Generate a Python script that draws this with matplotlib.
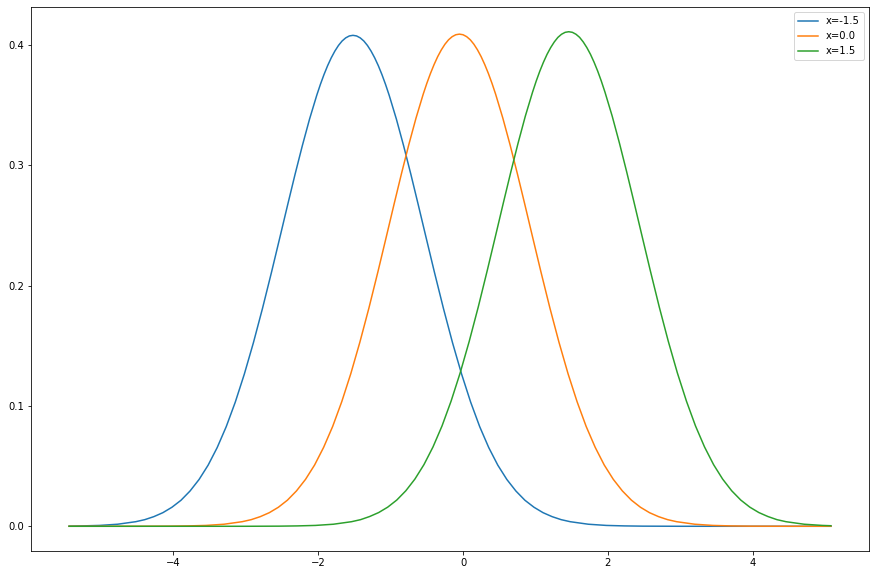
import matplotlib
matplotlib.use("Agg")
import matplotlib.pyplot as plt

labels = ["x=-1.5", "x=0.0", "x=1.5"]

x_blue = [-5.44, -5.27, -5.02, -4.77, -4.52, -4.395, -4.27, -4.145, -4.02, -3.895, -3.77,
          -3.645, -3.52, -3.395, -3.27, -3.145, -3.02, -2.895, -2.77, -2.645, -2.52,
          -2.42, -2.32, -2.22, -2.12, -2.02, -1.97, -1.92, -1.87, -1.82, -1.77, -1.72,
          -1.67, -1.62, -1.57, -1.52,
          -1.47, -1.42, -1.37, -1.32, -1.27, -1.22, -1.17, -1.12, -1.07, -1.02,
          -0.92, -0.82, -0.72, -0.62, -0.52, -0.395, -0.27, -0.145, -0.02, 0.105,
          0.23, 0.355, 0.48, 0.605, 0.73, 0.855, 0.98, 1.105, 1.23, 1.355, 1.48,
          1.73, 1.98, 2.23, 2.48, 3.0, 4.0, 5.08]
y_blue = [0.0001, 0.0003, 0.0007, 0.0017, 0.0038, 0.0055, 0.0080, 0.0113, 0.0158, 0.0216, 0.0293,
          0.0389, 0.0508, 0.0654, 0.0828, 0.1032, 0.1265, 0.1525, 0.1809, 0.2111, 0.2424,
          0.2676, 0.2924, 0.3161, 0.3383, 0.3582, 0.3672, 0.3754, 0.3828, 0.3893, 0.3949, 0.3996,
          0.4033, 0.4059, 0.4075, 0.4080,
          0.4075, 0.4059, 0.4033, 0.3996, 0.3949, 0.3893, 0.3828, 0.3754, 0.3672, 0.3582,
          0.3383, 0.3161, 0.2924, 0.2676, 0.2424, 0.2111, 0.1809, 0.1525, 0.1265, 0.1032,
          0.0828, 0.0654, 0.0508, 0.0389, 0.0293, 0.0216, 0.0158, 0.0113, 0.0080, 0.0055, 0.0038,
          0.0017, 0.0007, 0.0003, 0.0001, 0.0, 0.0, 0.0]

x_orange = [-5.44, -4.5, -4.05, -3.80, -3.55, -3.30, -3.05, -2.925, -2.80, -2.675, -2.55,
            -2.425, -2.30, -2.175, -2.05, -1.925, -1.80, -1.675, -1.55, -1.425, -1.30,
            -1.175, -1.05, -0.95, -0.85, -0.75, -0.65, -0.55, -0.50, -0.45, -0.40, -0.35,
            -0.30, -0.25, -0.20, -0.15, -0.10, -0.05,
            0.0, 0.05, 0.10, 0.15, 0.20, 0.25, 0.30, 0.35, 0.40, 0.45,
            0.55, 0.65, 0.75, 0.85, 0.95, 1.075, 1.20, 1.325, 1.45, 1.575, 1.70, 1.825,
            1.95, 2.075, 2.20, 2.325, 2.45, 2.575, 2.70, 2.825, 2.95,
            3.20, 3.45, 3.70, 3.95, 4.5, 5.08]
y_orange = [0.0, 0.0, 0.0001, 0.0003, 0.0007, 0.0017, 0.0038, 0.0055, 0.0080, 0.0113, 0.0158,
            0.0217, 0.0294, 0.0390, 0.0509, 0.0656, 0.0830, 0.1035, 0.1268, 0.1529, 0.1813,
            0.2116, 0.2430, 0.2683, 0.2931, 0.3169, 0.3391, 0.3591, 0.3681, 0.3763, 0.3837, 0.3903,
            0.3959, 0.4006, 0.4043, 0.4069, 0.4085, 0.4090,
            0.4085, 0.4069, 0.4043, 0.4006, 0.3959, 0.3903, 0.3837, 0.3763, 0.3681, 0.3591,
            0.3391, 0.3169, 0.2931, 0.2683, 0.2430, 0.2116, 0.1813, 0.1529, 0.1268, 0.1035, 0.0830, 0.0656,
            0.0509, 0.0390, 0.0294, 0.0217, 0.0158, 0.0113, 0.0080, 0.0055, 0.0038,
            0.0017, 0.0007, 0.0003, 0.0001, 0.0, 0.0]

x_green = [-5.44, -3.0, -2.54, -2.29, -2.04, -1.79, -1.54, -1.415, -1.29, -1.165, -1.04,
           -0.915, -0.79, -0.665, -0.54, -0.415, -0.29, -0.165, -0.04, 0.085, 0.21,
           0.335, 0.46, 0.56, 0.66, 0.76, 0.86, 0.96, 1.01, 1.06, 1.11, 1.16,
           1.21, 1.26, 1.31, 1.36, 1.41, 1.46,
           1.51, 1.56, 1.61, 1.66, 1.71, 1.76, 1.81, 1.86, 1.91, 1.96,
           2.06, 2.16, 2.26, 2.36, 2.46, 2.585, 2.71, 2.835, 2.96, 3.085, 3.21, 3.335,
           3.46, 3.585, 3.71, 3.835, 3.96, 4.085, 4.21, 4.335, 4.46,
           4.71, 4.96, 5.08]
y_green = [0.0, 0.0, 0.0001, 0.0003, 0.0007, 0.0017, 0.0038, 0.0055, 0.0081, 0.0114, 0.0159,
           0.0218, 0.0295, 0.0392, 0.0512, 0.0659, 0.0834, 0.1040, 0.1274, 0.1536, 0.1822,
           0.2127, 0.2442, 0.2696, 0.2945, 0.3184, 0.3408, 0.3608, 0.3699, 0.3782, 0.3856, 0.3922,
           0.3978, 0.4025, 0.4063, 0.4089, 0.4105, 0.4110,
           0.4105, 0.4089, 0.4063, 0.4025, 0.3978, 0.3922, 0.3856, 0.3782, 0.3699, 0.3608,
           0.3408, 0.3184, 0.2945, 0.2696, 0.2442, 0.2127, 0.1822, 0.1536, 0.1274, 0.1040, 0.0834, 0.0659,
           0.0512, 0.0392, 0.0295, 0.0218, 0.0159, 0.0114, 0.0081, 0.0055, 0.0038,
           0.0017, 0.0007, 0.00045]

fig = plt.figure(figsize=(874 / 72, 575 / 72), dpi=72)
ax = fig.add_axes([31 / 874, 1 - 551 / 575, (869 - 31) / 874, (551 - 7) / 575])
ax.plot(x_blue, y_blue, label=labels[0])
ax.plot(x_orange, y_orange, label=labels[1])
ax.plot(x_green, y_green, label=labels[2])
ax.set_xticks([-4, -2, 0, 2, 4])
ax.set_yticks([0.0, 0.1, 0.2, 0.3, 0.4])
ax.legend(loc="upper right")
fig.savefig("out.png", dpi=72)
